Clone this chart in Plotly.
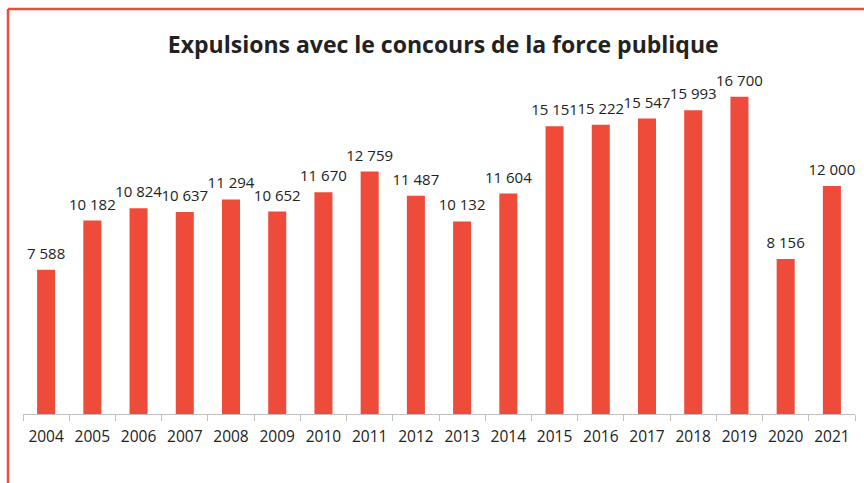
import plotly.graph_objects as go

years = [str(y) for y in range(2004, 2022)]
expulsions = [7588, 10182, 10824, 10637, 11294, 10652, 11670, 12759, 11487,
              10132, 11604, 15151, 15222, 15547, 15993, 16700, 8156, 12000]
labels = [f"{v:,}".replace(",", " ") for v in expulsions]

RED = "#EE4B3A"
W, H = 864, 483
ml, mr, mt, mb = 23, 9, 72, 69
pw, ph = W - ml - mr, H - mt - mb

fig = go.Figure()
fig.add_trace(go.Bar(
    x=years, y=expulsions,
    marker=dict(color=RED, line=dict(width=0)),
    hoverinfo="x+y",
))
# value labels above the bars (invisible marker pushes the text up a bit)
fig.add_trace(go.Scatter(
    x=years, y=expulsions, mode="markers+text", text=labels,
    textposition="top center",
    marker=dict(size=10, color="rgba(0,0,0,0)"),
    textfont=dict(size=15, color="#222222", family="Open Sans"),
    cliponaxis=False, hoverinfo="skip",
))

fig.update_layout(
    width=W, height=H,
    margin=dict(l=ml, r=mr, t=mt, b=mb, autoexpand=False),
    paper_bgcolor="white", plot_bgcolor="white",
    bargap=0.61,
    showlegend=False,
    font=dict(family="Open Sans", color="#222222"),
    title=dict(text="<b>Expulsions avec le concours de la force publique</b>",
               x=0.513, xanchor="center", y=1 - 45 / H, yanchor="middle",
               font=dict(size=23, color="#222222", family="Open Sans")),
)

fig.update_xaxes(showline=True, linecolor="#BFBFBF", linewidth=1,
                 range=[-0.5, len(years) - 0.5],
                 ticks="outside", tickcolor="#BFBFBF", ticklen=6,
                 tickson="boundaries", showgrid=False,
                 ticklabelstandoff=8,
                 tickfont=dict(size=15.5, color="#222222"))
fig.update_yaxes(visible=False, range=[0, 18000], showgrid=False)

# red frame on the left and top of the page
fig.add_shape(type="line", xref="paper", yref="paper",
              x0=(8 - ml) / pw, x1=(8 - ml) / pw,
              y0=-mb / ph, y1=1 + (mt - 9) / ph,
              line=dict(color=RED, width=2.5))
fig.add_shape(type="line", xref="paper", yref="paper",
              x0=(8 - ml) / pw, x1=1 + mr / pw,
              y0=1 + (mt - 9) / ph, y1=1 + (mt - 9) / ph,
              line=dict(color=RED, width=2.5))

fig.write_html("out.html", config={"displayModeBar": False},
               post_script="document.body.style.margin = '0';")
